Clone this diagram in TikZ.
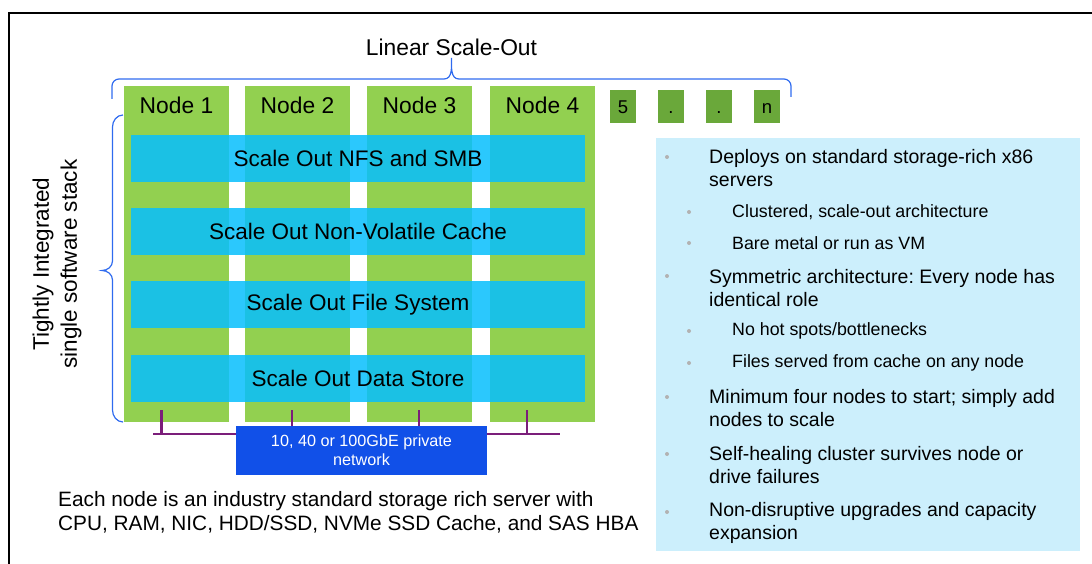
\documentclass[tikz,border=0pt]{standalone}
\usepackage{fontspec}
\setmainfont{Liberation Sans}
\usetikzlibrary{positioning,calc}
\definecolor{nodegreen}{RGB}{146,208,80}
\definecolor{darkgreen}{RGB}{106,168,58}
\definecolor{layercyan}{RGB}{8,191,253}
\definecolor{panelblue}{RGB}{204,239,252}
\definecolor{netblue}{RGB}{17,80,232}
\definecolor{buspurple}{RGB}{123,30,122}
\definecolor{braceblue}{RGB}{47,107,239}
\frenchspacing

\begin{document}
\begin{tikzpicture}[
  x=1pt, y=-1pt,
  col/.style={
    fill=nodegreen,
    minimum width=105pt,
    minimum height=336pt,
    inner sep=0pt
  },
  nlbl/.style={font=\fontsize{22.8}{27}\selectfont},
  sq/.style={
    fill=darkgreen,
    minimum width=26pt,
    minimum height=33pt,
    inner sep=0pt,
    text height=13.3pt,
    text depth=0pt,
    font=\fontsize{18.5}{20}\selectfont
  },
  band/.style={
    fill=layercyan,
    fill opacity=0.86,
    text opacity=1,
    minimum width=454pt,
    minimum height=47pt,
    inner sep=0pt,
    font=\fontsize{22.5}{27}\selectfont
  },
  bus/.style={draw=buspurple, line width=2.5pt},
  brc/.style={draw=braceblue, line width=1.2pt},
  item1/.style={anchor=west, align=left, inner sep=0pt,
    font=\fontsize{19.5}{23}\selectfont},
  item2/.style={anchor=west, align=left, inner sep=0pt,
    font=\fontsize{17.8}{21}\selectfont},
  dot/.style={circle, fill=black!30, minimum size=4pt, inner sep=0pt}
]
\useasboundingbox (0,0) rectangle (1092,564);

% Frame
\draw[line width=1.3pt] (1092,13) -- (9,13) -- (9,564);

% Title and brace
\node[nlbl] (title) at (451.5,47) {Linear Scale-Out};
\draw[brc] (112,99) -- (112,86) to[out=90,in=180] (119,79) -- (444,79)
  to[out=0,in=-90] (451.5,58) to[out=-90,in=180] (459,79) -- (784,79)
  to[out=0,in=90] (791,86) -- (791,97);

% Node columns
\foreach \x [count=\k] in {176.5,297.5,419.5,542.5} {
  \node[col] (n\k) at (\x,254) {};
  \node[nlbl] (t\k) at (\x,105) {Node \k};
}

% More nodes
\foreach \x/\t [count=\k] in {623/5, 671/., 719/., 767/n}
  \node[sq] (s\k) at (\x,106.5) {\t};

% Software layers
\foreach \y/\t [count=\k] in {158.5/Scale Out NFS and SMB,
  231.5/Scale Out Non-Volatile Cache,
  304.5/Scale Out File System,
  378.5/Scale Out Data Store}
  \node[band] (L\k) at (358,\y) {\t};

% Left brace and label
\draw[brc] (123,115) to[out=180,in=90] (112.5,127) -- (112.5,261)
  to[out=-90,in=0] (102,270.5) to[out=0,in=90] (112.5,280) -- (112.5,410)
  to[out=-90,in=180] (123,422);
\node[rotate=90, align=center, font=\fontsize{22.5}{28}\selectfont] (stack)
  at (57,264) {Tightly Integrated\\single software stack};

% Private network
\coordinate (busL) at (153,434);
\coordinate (busR) at (560,434);
\draw[bus] (busL) -- (busR);
\foreach \k/\dx in {1/-14.8, 2/-5.5, 3/-0.5, 4/-15.5}
  \draw[bus] ($(n\k.south)+(\dx,-12)$) -- ($(n\k.south)+(\dx,12)$);
\node[fill=netblue, text=white, minimum width=251pt, minimum height=48.5pt,
  inner sep=0pt, align=center, font=\fontsize{16.2}{18.3}\selectfont] (net)
  at (361.5,450.3) {10, 40 or 100GbE private\\network};

% Footnote
\node[anchor=west, align=left, inner sep=0pt,
  font=\fontsize{20.8}{24}\selectfont] (note) at (58,512)
  {Each node is an industry standard storage rich server with\\
   CPU, RAM, NIC, HDD/SSD, NVMe SSD Cache, and SAS HBA};

% Feature panel
\node[fill=panelblue, minimum width=424pt, minimum height=413pt,
  inner sep=0pt] (panel) at (868,344.5) {};

\foreach \y/\yc/\t [count=\k] in {
  157/168.5/{Deploys on standard storage-rich x86\\servers},
  276/288/{Symmetric architecture: Every node has\\identical role},
  397/408/{Minimum four nodes to start; simply add\\nodes to scale},
  454/465.5/{Self-healing cluster survives node or\\drive failures},
  512/523/{Non-disruptive upgrades and capacity\\expansion}} {
  \node[dot] (d\k) at (667,\y) {};
  \node[item1] (i\k) at (709,\yc) {\t};
}

\foreach \y/\t [count=\k] in {212/{Clustered, scale-out architecture},
  243/{Bare metal or run as VM},
  331/{No hot spots/bottlenecks},
  363/{Files served from cache on any node}} {
  \node[dot] (e\k) at (689,\y) {};
  \node[item2] (j\k) at (732,\y) {\t};
}

\end{tikzpicture}
\end{document}
